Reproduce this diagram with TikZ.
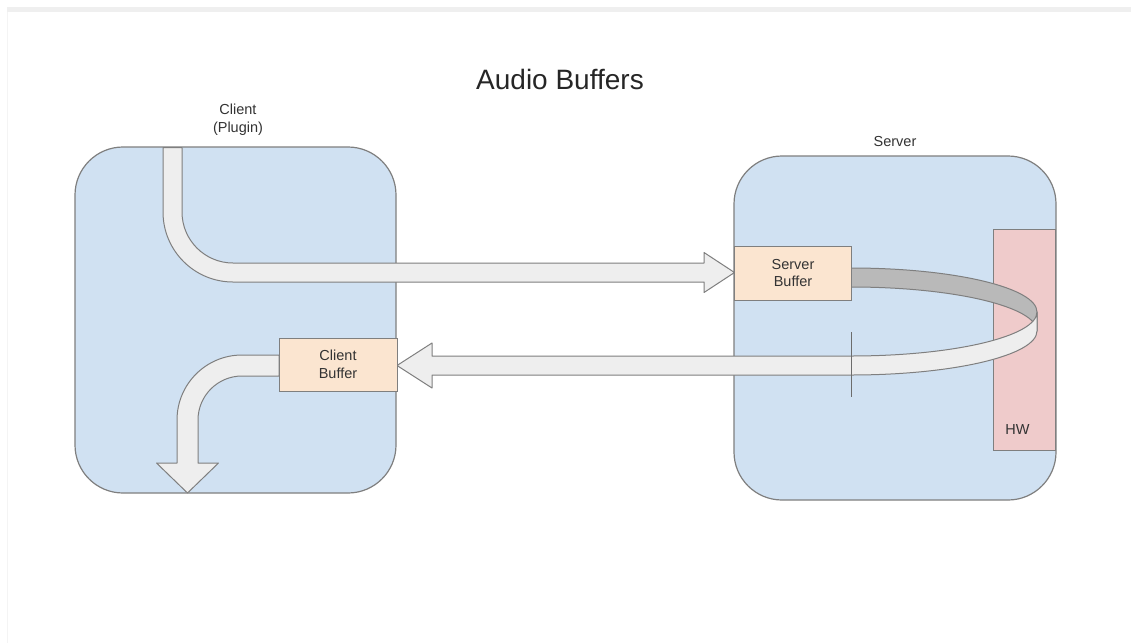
\documentclass[tikz,border=0pt]{standalone}
\usepackage{fontspec}
\setmainfont{Liberation Sans}
\definecolor{panelblue}{HTML}{D0E1F2}
\definecolor{edge}{HTML}{7F7F7F}
\definecolor{bufferfill}{HTML}{FBE5D0}
\definecolor{hwfill}{HTML}{EFCBCB}
\definecolor{flow}{HTML}{EEEEEE}
\definecolor{flowback}{HTML}{B9B9B9}
\definecolor{ink}{HTML}{333333}
\definecolor{frameline}{HTML}{EFEFEF}
\begin{document}
\begin{tikzpicture}[x=1pt,y=-1pt,
  panel/.style={draw=edge, fill=panelblue, line width=1.2pt, rounded corners=48pt, inner sep=0pt},
  bufbox/.style={draw=edge, fill=bufferfill, line width=1pt, inner sep=0pt, align=center,
    text=ink, font=\fontsize{14.5}{17.5}\selectfont},
  hwbox/.style={draw=edge, fill=hwfill, line width=1pt, inner sep=0pt},
  label/.style={text=ink, align=center, inner sep=0pt, font=\fontsize{14.5}{18}\selectfont},
  flowarrow/.style={draw=edge, fill=flow, line width=1pt, line join=round},
  backband/.style={draw=edge, fill=flowback, line width=1pt, line join=round},
  tick/.style={draw=edge!85!black, line width=1pt}]
\useasboundingbox (0,0) rectangle (1131,643);
% page frame
\fill[white] (0,0) rectangle (1131,643);
\fill[frameline] (7,7) rectangle (1131,11.5);
\draw[frameline!70!white, line width=1pt] (7.5,11.5) -- (7.5,643);

% titles
\node[text=black!85, inner sep=0pt, anchor=base, font=\fontsize{28}{32}\selectfont] (title) at (560,89) {Audio Buffers};
\node[label, anchor=base] (clientlbl) at (238,132) {Client\\(Plugin)};
\node[label, anchor=base] (serverlbl) at (895,146) {Server};

% client and server panels
\node[panel, minimum width=321pt, minimum height=346pt] (client) at (235.5,320) {};
\node[panel, minimum width=322pt, minimum height=344pt] (server) at (895,328) {};

% hardware block
\node[hwbox, minimum width=62pt, minimum height=221pt] (hw) at (1024,339.5) {};
\node[label, anchor=base] (hwlbl) at (1017.5,434) {HW};

% plugin output into the server buffer
\draw[flowarrow] (163,147.5) -- (163,212) arc[start angle=180,end angle=90,radius=70]
  -- (704,282) -- (704,292.5) -- (734.5,272.5) -- (704,252.5) -- (704,263)
  -- (233,263) arc[start angle=90,end angle=180,radius=51] -- (182,147.5) -- cycle;

% client buffer out to the plugin
\draw[flowarrow] (279,355) -- (242,355) arc[start angle=-90,end angle=-180,radius=65]
  -- (177,463) -- (156.5,463) -- (187.5,493) -- (218.5,463) -- (198,463)
  -- (198,420) arc[start angle=180,end angle=270,radius=44] -- (279,376) -- cycle;

% ring through the hardware: back half
\draw[backband] (851,268) arc[start angle=-90,end angle=0,x radius=186,y radius=44]
  -- (1037,331) arc[start angle=0,end angle=-90,x radius=186,y radius=44] -- cycle;

% ring front half and return to the client buffer
\draw[flowarrow] (432,356) -- (851,356) arc[start angle=90,end angle=0,x radius=186,y radius=44]
  -- (1037,331) arc[start angle=0,end angle=90,x radius=186,y radius=44]
  -- (432,375) -- (432,388) -- (397,365.5) -- (432,343) -- cycle;

% buffers
\node[bufbox, minimum width=117pt, minimum height=54pt] (serverbuf) at (793,273) {Server\\Buffer};
\node[bufbox, minimum width=118pt, minimum height=53pt] (clientbuf) at (338,364.5) {Client\\Buffer};

% read position marker
\coordinate (marktop) at (851,332);
\coordinate (markbot) at (851,397);
\draw[tick] (marktop) -- (markbot);
\end{tikzpicture}
\end{document}
